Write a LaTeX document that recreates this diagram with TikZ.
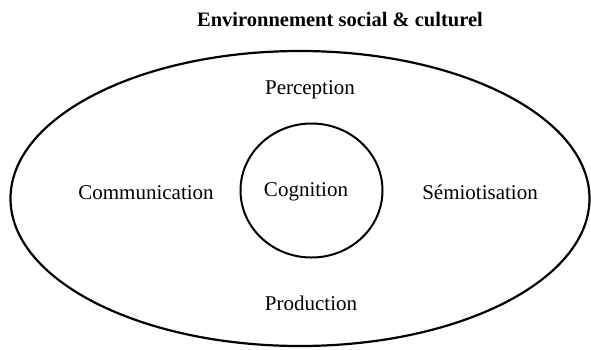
\documentclass[tikz,border=0pt]{standalone}
\usepackage{fontspec}
\setmainfont{Liberation Serif}
\usetikzlibrary{shapes.geometric}
\begin{document}
\begin{tikzpicture}[x=1pt,y=-1pt,
  lbl/.style={anchor=base,inner sep=0pt,font=\fontsize{21}{25}\selectfont},
  ttl/.style={anchor=base,inner sep=0pt,font=\fontsize{20.5}{24}\selectfont\bfseries},
  ring/.style={draw,ellipse,inner sep=0pt,outer sep=0pt}]
\useasboundingbox (0,0) rectangle (591,349);
\node[ring,line width=2.2pt,minimum width=579pt,minimum height=295pt] (env) at (300,198.5) {};
\node[ring,line width=2pt,minimum width=142pt,minimum height=134pt] (core) at (311.5,190.5) {};
\node[ttl] (title) at (340,26) {Environnement social \& culturel};
\node[lbl] (perc) at (310,94) {Perception};
\node[lbl] (comm) at (146,199) {Communication};
\node[lbl] (cog) at (306,196) {Cognition};
\node[lbl] (semi) at (480,199) {Sémiotisation};
\node[lbl] (prod) at (311,310) {Production};
\end{tikzpicture}
\end{document}
